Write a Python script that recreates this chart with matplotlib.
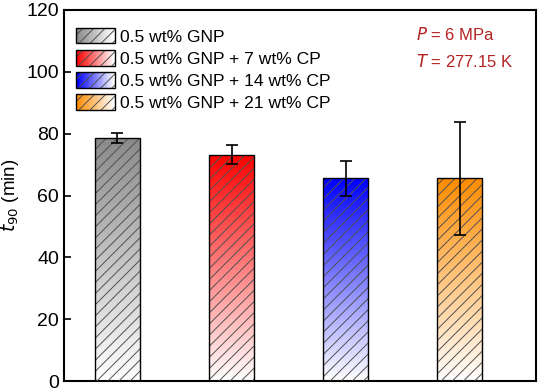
import numpy as np
import matplotlib
matplotlib.use("Agg")
import matplotlib.pyplot as plt
from matplotlib.patches import Rectangle
from matplotlib.legend_handler import HandlerBase
from matplotlib.colors import to_rgb

plt.rcParams['font.family'] = ['Liberation Sans', 'DejaVu Sans']

labels = ['0.5 wt% GNP', '0.5 wt% GNP + 7 wt% CP',
          '0.5 wt% GNP + 14 wt% CP', '0.5 wt% GNP + 21 wt% CP']
values = [78.5, 73.2, 65.5, 65.5]
errors = [1.6, 3.0, 5.7, 18.2]
top_colors = ['#8a8a8a', '#ff0000', '#0000ff', '#ff8c00']
yticks = [0, 20, 40, 60, 80, 100, 120]

fig = plt.figure(figsize=(5.5, 3.91), dpi=100)
ax = fig.add_axes([64/550, 10/391, 472/550, 371/391])

x = np.arange(1, len(values) + 1)
width = 0.395

def grad_img(c, n=256):
    c = np.array(to_rgb(c))
    t = np.linspace(0, 1, n)[:, None]
    img = (1 - t) * np.ones(3) + t * c
    return img[:, None, :]

bars = ax.bar(x, values, width, color='none', edgecolor='none', zorder=2)
for b, c in zip(bars, top_colors):
    x0, w, h = b.get_x(), b.get_width(), b.get_height()
    im = ax.imshow(grad_img(c), extent=[x0, x0 + w, 0, h], origin='lower',
                   aspect='auto', zorder=2, interpolation='bilinear')
    im.set_clip_path(b)
plt.rcParams['hatch.linewidth'] = 0.7
ax.bar(x, values, width, color='none', edgecolor='#505050', hatch='///',
       linewidth=0, zorder=3)
ax.bar(x, values, width, color='none', edgecolor='black', linewidth=1.0, zorder=4)
ax.errorbar(x, values, yerr=errors, fmt='none', ecolor='black',
            elinewidth=1.2, capsize=4.5, capthick=1.2, zorder=5)

class GradHandler(HandlerBase):
    def __init__(self, color):
        super().__init__()
        self.color = color
    def create_artists(self, legend, orig_handle, xdescent, ydescent,
                       width, height, fontsize, trans):
        arts = []
        n = 30
        c = np.array(to_rgb(self.color))
        for i in range(n):
            t = 1 - i / (n - 1)
            col = (1 - t) * np.ones(3) + t * c
            r = Rectangle((-xdescent + i * width / n, -ydescent), width / n + 0.3,
                          height, facecolor=col, edgecolor='none', transform=trans)
            arts.append(r)
        arts.append(Rectangle((-xdescent, -ydescent), width, height,
                              facecolor='none', edgecolor='#505050', hatch='///',
                              linewidth=0, transform=trans))
        arts.append(Rectangle((-xdescent, -ydescent), width, height,
                              facecolor='none', edgecolor='black', linewidth=1.0,
                              transform=trans))
        return arts

handles = [Rectangle((0, 0), 1, 1) for _ in labels]
hmap = {h: GradHandler(c) for h, c in zip(handles, top_colors)}
ax.legend(handles, labels, handler_map=hmap, loc='upper left', frameon=False,
          fontsize=12.6, handlelength=2.2, handleheight=1.0, handletextpad=0.3,
          labelspacing=0.3, borderaxespad=0.3, bbox_to_anchor=(0.0, 0.985))

ax.text(0.745, 0.935, r'$\it{P}$ = 6 MPa', transform=ax.transAxes,
        color='#b22222', fontsize=12, va='center')
ax.text(0.745, 0.86, r'$\it{T}$ = 277.15 K', transform=ax.transAxes,
        color='#b22222', fontsize=12, va='center')

ax.set_xlim(0.531, 4.67)
ax.set_ylim(0, 120)
ax.set_yticks(yticks)
ax.set_xticks(x)
ax.set_xticklabels([])
ax.tick_params(axis='both', direction='in', length=5, width=1.2, labelsize=14)
ax.tick_params(axis='x', length=4)
ax.set_ylabel(r'$t_{90}$ (min)', fontsize=13.5, labelpad=4)
for s in ax.spines.values():
    s.set_linewidth(1.5)

fig.savefig('out.png', dpi=100)
